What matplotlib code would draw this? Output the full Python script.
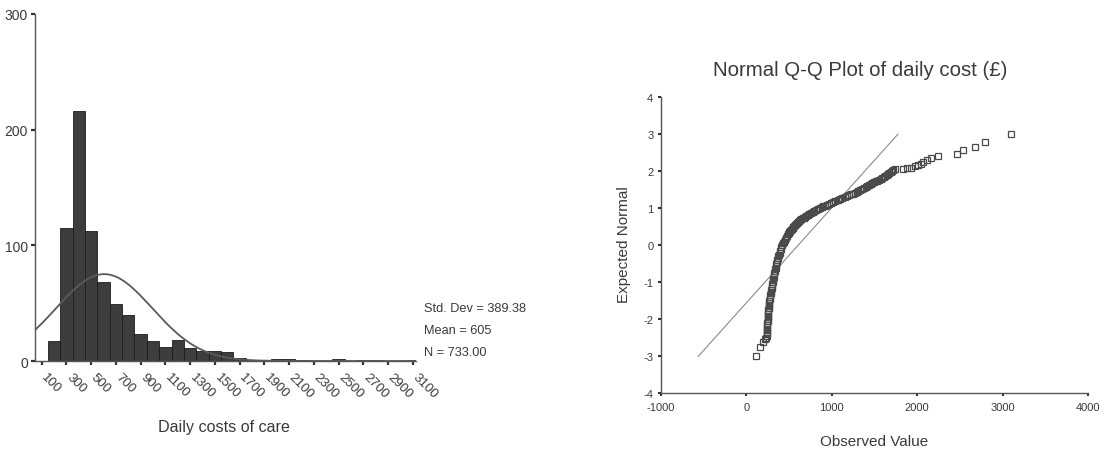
import numpy as np
import matplotlib
matplotlib.use('Agg')
from matplotlib import pyplot as plt
from matplotlib import transforms

plt.rcParams['font.family'] = ['Liberation Sans', 'DejaVu Sans']
plt.rcParams['axes.unicode_minus'] = False

# histogram of daily costs (bin centres, width 100)
bin_centres = [200, 300, 400, 500, 600, 700, 800, 900, 1000, 1100,
               1200, 1300, 1400, 1500, 1600, 1700, 1800, 1900, 2000, 2100,
               2200, 2300, 2400, 2500, 2600, 2700, 2800, 2900, 3000, 3100]
counts = [17, 115, 216, 112, 68, 49, 40, 23, 17, 12,
          18, 11, 9, 9, 8, 3, 1, 0, 2, 2,
          1, 0, 0, 2, 0, 1, 1, 0, 0, 1]
hist_ticks = list(range(100, 3101, 200))
std_dev = 389.38
mean_cost = 605
n_cases = 733

# normal Q-Q plot points (observed value, expected normal)
qq_obs = [109, 156, 195, 222, 232,
          236, 239, 241, 243, 244, 245, 246, 247, 248, 249,
          250, 252, 254, 256, 258, 260, 262, 265, 267, 270,
          273, 276, 279, 283, 286, 290, 294, 298, 302, 306,
          310, 314, 318, 323, 327, 332, 337, 342, 347, 352,
          357, 363, 369, 375, 381, 388, 395, 402, 410, 418,
          428, 440, 451, 462, 475, 488, 500, 514, 532, 551,
          572, 595, 619, 644, 671, 703, 738, 776, 816, 858,
          902, 946, 994, 1042, 1092, 1150, 1200, 1243, 1290, 1333,
          1375, 1415, 1455, 1495, 1535, 1575, 1610, 1645, 1675, 1705, 1740,
          494, 507, 523, 541, 561, 583, 607, 631, 657, 687,
          720, 757, 796, 837, 880, 924, 970, 1018, 1067, 1120,
          1175, 1222, 1266, 1311, 1354, 1395, 1435, 1475, 1515, 1555,
          1592, 1628, 1660, 1690, 1722,
          1832, 1880, 1930, 1975, 2007, 2040, 2066, 2120, 2164, 2241,
          2463, 2534, 2678, 2795, 3099]
qq_z = [-3.00, -2.75, -2.62, -2.53, -2.50,
        -2.45, -2.40, -2.35, -2.30, -2.25, -2.20, -2.15, -2.10, -2.05, -2.00,
        -1.95, -1.90, -1.85, -1.80, -1.75, -1.70, -1.65, -1.60, -1.55, -1.50,
        -1.45, -1.40, -1.35, -1.30, -1.25, -1.20, -1.15, -1.10, -1.05, -1.00,
        -0.95, -0.90, -0.85, -0.80, -0.75, -0.70, -0.65, -0.60, -0.55, -0.50,
        -0.45, -0.40, -0.35, -0.30, -0.25, -0.20, -0.15, -0.10, -0.05, 0.00,
        0.05, 0.10, 0.15, 0.20, 0.25, 0.30, 0.35, 0.40, 0.45, 0.50,
        0.55, 0.60, 0.65, 0.70, 0.75, 0.80, 0.85, 0.90, 0.95, 1.00,
        1.05, 1.10, 1.15, 1.20, 1.25, 1.30, 1.35, 1.40, 1.45, 1.50,
        1.55, 1.60, 1.65, 1.70, 1.75, 1.80, 1.85, 1.90, 1.95, 2.00, 2.05,
        0.325, 0.375, 0.425, 0.475, 0.525, 0.575, 0.625, 0.675, 0.725, 0.775,
        0.825, 0.875, 0.925, 0.975, 1.025, 1.075, 1.125, 1.175, 1.225, 1.275,
        1.325, 1.375, 1.425, 1.475, 1.525, 1.575, 1.625, 1.675, 1.725, 1.775,
        1.825, 1.875, 1.925, 1.975, 2.025,
        2.07, 2.08, 2.10, 2.13, 2.17, 2.21, 2.25, 2.31, 2.37, 2.42,
        2.48, 2.57, 2.66, 2.78, 3.02]

W, H = 1107, 452
fig = plt.figure(figsize=(W / 100, H / 100), dpi=100)
txt = '#3a3a3a'
spine_c = '#555555'


def px(x, y):
    return x / W, 1 - y / H


# ---- histogram ----
ax1 = fig.add_axes([35 / W, 1 - 362 / H, 381 / W, 347 / H])
ax1.bar(bin_centres, counts, width=100, color='#3d3d3d', edgecolor='#1c1c1c', linewidth=0.6)
xs = np.linspace(46, 3125, 400)
ys = n_cases * 100 / (std_dev * np.sqrt(2 * np.pi)) * np.exp(-0.5 * ((xs - mean_cost) / std_dev) ** 2)
ax1.plot(xs, ys, color='#5a5a5a', lw=1.3)
ax1.set_xlim(46, 3125)
ax1.set_ylim(0, 300)
ax1.set_yticks([0, 100, 200, 300])
ax1.set_xticks(hist_ticks)
for s in ['top', 'right']:
    ax1.spines[s].set_visible(False)
for s in ['left', 'bottom']:
    ax1.spines[s].set_color(spine_c)
    ax1.spines[s].set_linewidth(1.0)
ax1.tick_params(axis='both', length=3, width=1.6, color='#333333', labelcolor=txt)
ax1.tick_params(axis='x', pad=6, labelsize=9.5)
ax1.tick_params(axis='y', pad=2, labelsize=10)
ax1.set_xticklabels([str(t) for t in hist_ticks], rotation=-45, ha='left', va='top',
                    rotation_mode='anchor')
# nudge rotated labels right/up like the original
shift = transforms.ScaledTranslation(6 / 100, 3 / 100, fig.dpi_scale_trans)
for lab in ax1.get_xticklabels():
    lab.set_transform(lab.get_transform() + shift)

fig.text(*px(424, 309), 'Std. Dev = %.2f' % std_dev, fontsize=9.2, color=txt, va='center')
fig.text(*px(424, 331), 'Mean = %d' % mean_cost, fontsize=9.2, color=txt, va='center')
fig.text(*px(424, 353), 'N = %.2f' % n_cases, fontsize=9.2, color=txt, va='center')
fig.text(*px(224, 428), 'Daily costs of care', fontsize=11.6, color=txt, ha='center', va='center')

# ---- Q-Q plot ----
ax2 = fig.add_axes([661 / W, 1 - 394.3 / H, 427 / W, 296 / H])
ax2.plot([mean_cost - 3 * std_dev, mean_cost + 3 * std_dev], [-3, 3], color='#8a8a8a', lw=0.8)
ax2.plot(qq_obs, qq_z, ls='none', marker='s', ms=4.3, mfc='none', mec='#4a4a4a', mew=0.9)
ax2.set_xlim(-1000, 4000)
ax2.set_ylim(-4, 4)
ax2.set_xticks([-1000, 0, 1000, 2000, 3000, 4000])
ax2.set_yticks(range(-4, 5))
for s in ['top', 'right']:
    ax2.spines[s].set_visible(False)
for s in ['left', 'bottom']:
    ax2.spines[s].set_color(spine_c)
    ax2.spines[s].set_linewidth(1.0)
ax2.tick_params(axis='both', length=2.5, width=1.5, color='#333333', labelsize=8, labelcolor=txt)
ax2.tick_params(axis='y', pad=3)
ax2.tick_params(axis='x', pad=4)

fig.text(*px(860, 71), 'Normal Q-Q Plot of daily cost (£)', fontsize=14.7, color=txt,
         ha='center', va='center')
fig.text(*px(624, 245), 'Expected Normal', fontsize=11, color=txt, ha='center', va='center',
         rotation=90)
fig.text(*px(874, 442), 'Observed Value', fontsize=11, color=txt, ha='center', va='center')

fig.savefig('out.png', dpi=100)
